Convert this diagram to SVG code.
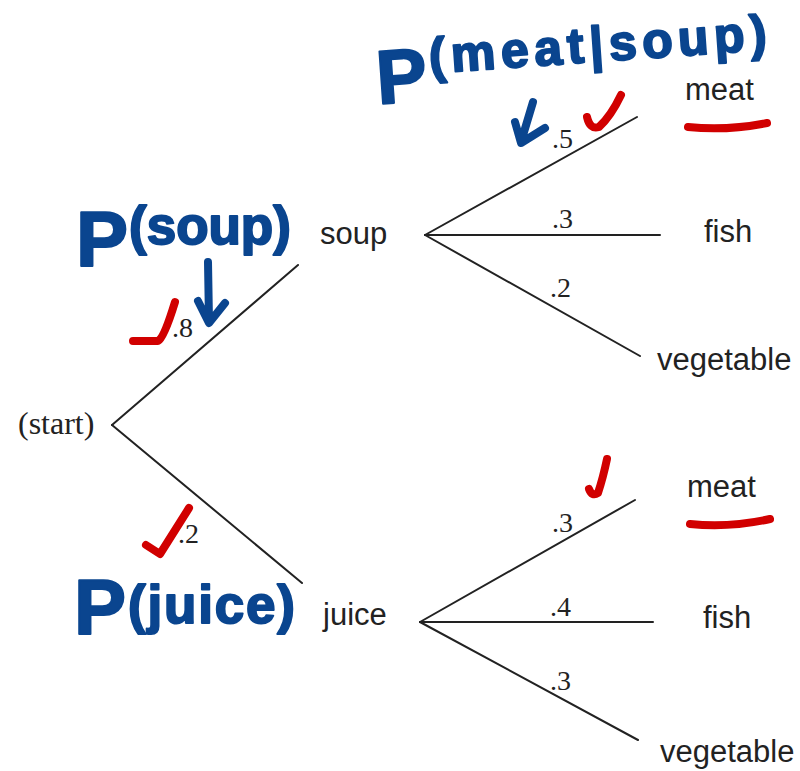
<svg xmlns="http://www.w3.org/2000/svg" width="800" height="771" viewBox="0 0 800 771">
<style>
.node{font-family:"Liberation Sans",Arial,sans-serif;font-size:31px;fill:#222}
.start{font-family:"Liberation Serif","Times New Roman",serif;font-size:32px;fill:#222}
.prob{font-family:"Liberation Serif","Times New Roman",serif;font-size:28px;fill:#222}
.edge{stroke:#222;stroke-width:2;fill:none;stroke-linecap:round}
.hand{font-family:"Liberation Sans",Arial,sans-serif;font-weight:bold;fill:#0a458f;stroke:#0a458f;stroke-width:2;stroke-linejoin:round}
.blue{stroke:#0a458f;stroke-width:8;fill:none;stroke-linecap:round;stroke-linejoin:round}
.red{stroke:#d10000;stroke-width:8;fill:none;stroke-linecap:round;stroke-linejoin:round}
</style>
<rect width="800" height="771" fill="#ffffff"/>
<g id="connectors">
<line class="edge" x1="112" y1="425" x2="298" y2="265"/>
<line class="edge" x1="112" y1="425" x2="302" y2="583"/>
<line class="edge" x1="425" y1="235" x2="637" y2="117"/>
<line class="edge" x1="425" y1="235" x2="660" y2="235"/>
<line class="edge" x1="425" y1="235" x2="640" y2="356"/>
<line class="edge" x1="420" y1="622" x2="635" y2="500"/>
<line class="edge" x1="420" y1="622" x2="653" y2="622"/>
<line class="edge" x1="420" y1="622" x2="638" y2="740"/>
<text class="prob" x="172" y="337">.8</text>
<text class="prob" x="178" y="543">.2</text>
<text class="prob" x="552" y="148">.5</text>
<text class="prob" x="552" y="228">.3</text>
<text class="prob" x="550" y="297">.2</text>
<text class="prob" x="552" y="532">.3</text>
<text class="prob" x="550" y="616">.4</text>
<text class="prob" x="550" y="690">.3</text>
</g>
<g id="start"><text class="start" x="18" y="434">(start)</text></g>
<g id="soup"><text class="node" x="320" y="244">soup</text></g>
<g id="juice"><text class="node" x="323" y="625">juice</text></g>
<g id="meat1"><text class="node" x="685" y="100">meat</text></g>
<g id="fish1"><text class="node" x="704" y="242">fish</text></g>
<g id="vegetable1"><text class="node" x="657" y="370">vegetable</text></g>
<g id="meat2"><text class="node" x="687" y="497">meat</text></g>
<g id="fish2"><text class="node" x="703" y="628">fish</text></g>
<g id="vegetable2"><text class="node" x="660" y="762">vegetable</text></g>
<g id="annotations">
<text class="hand" transform="rotate(-4 378 104)"><tspan x="378" y="104" font-size="76">P</tspan><tspan x="432" y="77" font-size="50" letter-spacing="5.5">(meat|soup)</tspan></text>
<text class="hand"><tspan x="76" y="266" font-size="78">P</tspan><tspan x="129" y="244" font-size="53">(soup)</tspan></text>
<text class="hand"><tspan x="74" y="634" font-size="78">P</tspan><tspan x="128" y="623" font-size="53" letter-spacing="1.8">(juice)</tspan></text>
<path class="blue" d="M533,102 L521,142 M515,122 L521,143 L545,128"/>
<path class="blue" d="M208,262 L209,322 M198,301 L209,323 L225,303"/>
<path class="red" d="M587,117 Q590,130 599,127 Q611,116 621,95"/>
<path class="red" d="M133,341 L158,341 Q164,338 175,302"/>
<path class="red" d="M146,545 L160,554 Q172,535 189,508"/>
<path class="red" d="M589,489 Q592,497 598,493 Q603,478 607,459"/>
<path class="red" d="M688,127 Q727,131 767,123"/>
<path class="red" d="M690,524 Q730,528 770,519"/>
</g>
</svg>
